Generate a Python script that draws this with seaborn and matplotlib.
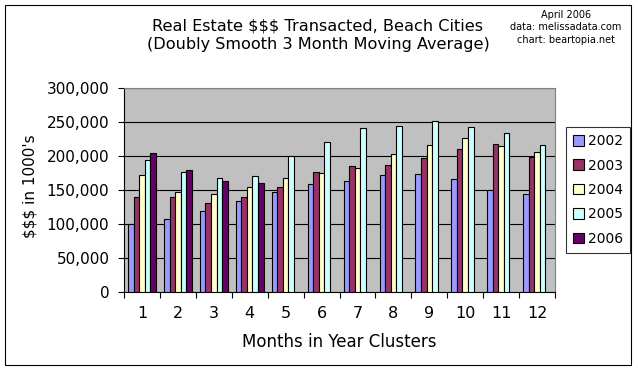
import numpy as np
import pandas as pd

import matplotlib
matplotlib.use('Agg')
import matplotlib.pyplot as plt
import seaborn as sns
from matplotlib.patches import Rectangle
from matplotlib.ticker import FuncFormatter, MultipleLocator

MONTHS = [str(m) for m in range(1, 13)]
YEARS = ['2002', '2003', '2004', '2005', '2006']

# values in $1000's
V2002 = [100, 107, 119, 134, 147, 159, 163, 172, 174, 166, 150, 144]
V2003 = [140, 140, 131, 140, 155, 177, 185, 187, 197, 210, 218, 199]
V2004 = [172, 147, 144, 155, 168, 175, 182, 203, 216, 227, 215, 206]
V2005 = [194, 177, 168, 171, 200, 221, 241, 244, 252, 243, 234, 216]
V2006 = [205, 179, 163, 160, None, None, None, None, None, None, None, None]

COLORS = ['#9999FF', '#993366', '#FFFFCC', '#CCFFFF', '#660066']

rows = []
for year, vals in zip(YEARS, [V2002, V2003, V2004, V2005, V2006]):
    for month, v in zip(MONTHS, vals):
        rows.append({'month': month, 'year': year,
                     'value': np.nan if v is None else v * 1000})
df = pd.DataFrame(rows)

sns.set_style('white')
plt.rcParams['font.family'] = ['DejaVu Sans']
plt.rcParams['text.color'] = 'black'
plt.rcParams['axes.labelcolor'] = 'black'
plt.rcParams['xtick.color'] = 'black'
plt.rcParams['ytick.color'] = 'black'

fig = plt.figure(figsize=(6.38, 3.71), dpi=100)
ax = fig.add_axes([124 / 638, 1 - 292 / 371, 431 / 638, 204 / 371])
ax.set_facecolor('#C0C0C0')

sns.barplot(data=df, x='month', y='value', hue='year', order=MONTHS,
            hue_order=YEARS, palette=COLORS, width=0.77, gap=0,
            edgecolor='black', linewidth=0.8, saturation=1, ax=ax,
            errorbar=None, legend=True, zorder=3)

ax.set_ylim(0, 300000)
ax.set_xlim(-0.5, 11.5)
ax.yaxis.set_major_locator(MultipleLocator(50000))
ax.yaxis.set_major_formatter(FuncFormatter(lambda v, p: f'{int(v):,}'))
ax.grid(axis='y', color='black', linewidth=0.8, zorder=1)
ax.set_axisbelow(True)

ax.set_xticks(np.arange(-0.5, 12, 1), minor=False)
ax.set_xticklabels([])
ax.set_xticks(np.arange(12), minor=True)
ax.set_xticklabels(MONTHS, minor=True)
ax.tick_params(axis='x', which='major', direction='out', length=4, width=0.8)
ax.tick_params(axis='x', which='minor', length=0, pad=10, labelsize=11.5)
ax.tick_params(axis='y', direction='out', length=4.5, width=0.8,
               labelsize=11, pad=6)
ax.tick_params(left=True, bottom=True)

for side in ['left', 'bottom']:
    ax.spines[side].set_color('black')
    ax.spines[side].set_linewidth(0.8)
for side in ['top', 'right']:
    ax.spines[side].set_color('#808080')
    ax.spines[side].set_linewidth(0.8)

ax.set_xlabel('Months in Year Clusters', fontsize=12, labelpad=9)
ax.set_ylabel("$$$ in 1000's", fontsize=11)
ax.yaxis.set_label_coords(-0.20, 0.52)

leg = ax.legend(loc='center left', bbox_to_anchor=(1.025, 0.5), frameon=True,
                fancybox=False, edgecolor='black', fontsize=10,
                handlelength=0.8, handleheight=0.8, handletextpad=0.3,
                labelspacing=0.75, borderpad=0.5, borderaxespad=0)
leg.get_frame().set_linewidth(0.8)

fig.text(318 / 638, 1 - 26 / 371, 'Real Estate $$$ Transacted, Beach Cities',
         ha='center', va='center', fontsize=11.6)
fig.text(318 / 638, 1 - 45 / 371, '(Doubly Smooth 3 Month Moving Average)',
         ha='center', va='center', fontsize=11.6)
fig.text(566 / 638, 1 - 10 / 371, 'April 2006\ndata: melissadata.com\nchart: beartopia.net',
         ha='center', va='top', fontsize=7, linespacing=1.3)

fig.patches.append(Rectangle((5 / 638, 6 / 371), 626 / 638, 360 / 371,
                             transform=fig.transFigure, fill=False,
                             edgecolor='black', linewidth=0.8))

fig.savefig('out.png', dpi=100)
